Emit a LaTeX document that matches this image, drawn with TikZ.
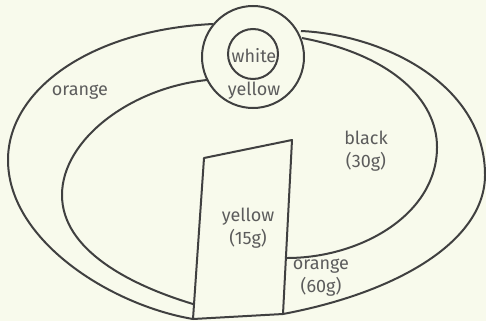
\documentclass[tikz,border=0pt]{standalone}
\usepackage{fontspec}
\setmainfont{Fira Sans}
\definecolor{bg}{HTML}{F8FAEC}
\definecolor{ln}{HTML}{404040}
\definecolor{tx}{HTML}{5C5C5C}
\begin{document}
\begin{tikzpicture}[x=1pt,y=-1pt,
  edge/.style={draw=ln,line width=2pt,line join=round},
  lbl/.style={text=tx,font=\fontsize{18}{23}\selectfont,align=center,inner sep=0pt}]
\fill[bg] (0,0) rectangle (486,321);
\useasboundingbox (0,0) rectangle (486,321);
% outer band
\draw[edge] (213,24) .. controls (90,30) and (8,90) .. (8,160)
  .. controls (8,240) and (110,305) .. (193,319);
\draw[edge] (283,314) .. controls (400,292) and (485,240) .. (485,175)
  .. controls (485,85) and (385,35) .. (301,31);
% inner band
\draw[edge] (207,80) .. controls (130,88) and (62,140) .. (62,195)
  .. controls (62,250) and (130,285) .. (193,304);
\draw[edge] (302,38) .. controls (392,55) and (437,100) .. (437,147)
  .. controls (437,215) and (360,258) .. (287,258);
% stem
\draw[edge] (204,158) -- (292,140) -- (283,314) -- (193,319) -- cycle;
% dot
\node[circle,draw=ln,line width=2pt,fill=bg,minimum size=102pt,inner sep=0pt] (outerdot) at (253,57) {};
\node[circle,draw=ln,line width=2pt,minimum size=50pt,inner sep=0pt] (innerdot) at (253,54) {};
% labels
\node[lbl] (lwhite) at (254,56) {white};
\node[lbl] (lyellowtop) at (254,91) {yellow};
\node[lbl] (lorange) at (80,92) {orange};
\node[lbl] (lblack) at (366,151) {black\\(30g)};
\node[lbl] (lyellow) at (248,228) {yellow\\(15g)};
\node[lbl] (lorange60) at (321,278) {orange\\(60g)};
\end{tikzpicture}
\end{document}
